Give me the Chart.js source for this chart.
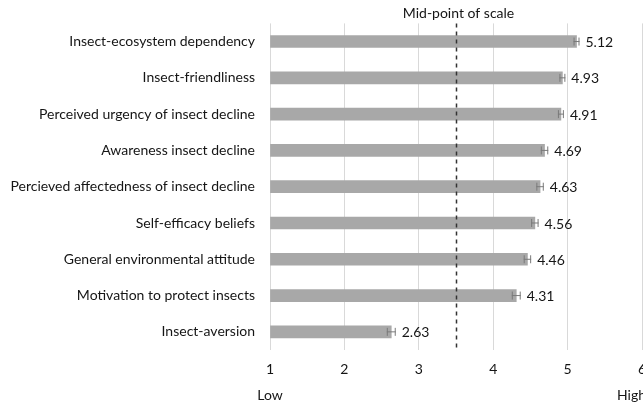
<!DOCTYPE html>
<html>
<head>
<meta charset="utf-8">
<script src="https://cdn.jsdelivr.net/npm/chart.js@4.4.1/dist/chart.umd.min.js"></script>
<style>
  html, body { margin: 0; padding: 0; background: #fff; overflow: hidden; }
  #wrap { width: 660px; height: 408px; }
</style>
</head>
<body>
<div id="wrap"><canvas id="c" width="660" height="408"></canvas></div>
<script>
const categories = [
  'Insect-ecosystem dependency',
  'Insect-friendliness',
  'Perceived urgency of insect decline',
  'Awareness insect decline',
  'Percieved affectedness of insect decline',
  'Self-efficacy beliefs',
  'General environmental attitude',
  'Motivation to protect insects',
  'Insect-aversion'
];
const means = [5.12, 4.93, 4.91, 4.69, 4.63, 4.56, 4.46, 4.31, 2.63];
const stdErrors = [0.04, 0.04, 0.04, 0.05, 0.05, 0.05, 0.05, 0.06, 0.06];
const xTicks = [1, 2, 3, 4, 5, 6];
const midPoint = 3.5;

const FONT = 'Lato, "Open Sans", sans-serif';
const TEXT = '#151515';

const annotations = {
  id: 'annotations',
  afterDatasetsDraw(chart) {
    const { ctx, chartArea, scales } = chart;
    const x = scales.x;
    ctx.save();

    // error bars and value labels
    const meta = chart.getDatasetMeta(0);
    ctx.strokeStyle = '#7a7a7a';
    ctx.lineWidth = 1;
    ctx.fillStyle = TEXT;
    ctx.font = '14px ' + FONT;
    ctx.textBaseline = 'middle';
    ctx.textAlign = 'left';
    meta.data.forEach((bar, i) => {
      const cy = bar.y;
      const lo = x.getPixelForValue(means[i] - stdErrors[i]);
      const hi = x.getPixelForValue(means[i] + stdErrors[i]);
      ctx.beginPath();
      ctx.moveTo(lo, cy); ctx.lineTo(hi, cy);
      ctx.moveTo(lo + 0.5, cy - 4); ctx.lineTo(lo + 0.5, cy + 4);
      ctx.moveTo(hi - 0.5, cy - 4); ctx.lineTo(hi - 0.5, cy + 4);
      ctx.stroke();
      ctx.fillText(means[i].toFixed(2), hi + 6, cy + 1);
    });

    // dashed mid-point line
    const mx = Math.round(x.getPixelForValue(midPoint)) + 0.5;
    ctx.strokeStyle = '#333';
    ctx.lineWidth = 1.5;
    ctx.setLineDash([4, 4]);
    ctx.beginPath();
    ctx.moveTo(mx, chartArea.top);
    ctx.lineTo(mx, chartArea.bottom);
    ctx.stroke();
    ctx.setLineDash([]);

    ctx.fillStyle = TEXT;
    ctx.textAlign = 'center';
    ctx.font = '14px ' + FONT;
    ctx.fillText('Mid-point of scale', mx + 2, 13);

    // scale ends
    ctx.textAlign = 'center';
    ctx.fillText('Low', x.getPixelForValue(1), 395);
    ctx.textAlign = 'left';
    ctx.fillText('High', x.getPixelForValue(6) - 25, 395);
    ctx.restore();
  }
};

new Chart(document.getElementById('c'), {
  type: 'bar',
  data: {
    labels: categories,
    datasets: [{
      data: means,
      backgroundColor: '#a8a8a8',
      borderWidth: 0,
      barThickness: 12,
      base: 1
    }]
  },
  options: {
    indexAxis: 'y',
    responsive: false,
    animation: false,
    layout: { padding: { top: 22, left: 0, right: 18, bottom: 0 } },
    plugins: { legend: { display: false }, tooltip: { enabled: false } },
    scales: {
      x: {
        min: 1, max: 6,
        afterBuildTicks(s) { s.ticks = xTicks.map(v => ({ value: v })); },
        afterFit(s) { s.height = 58; },
        grid: { color: '#d9d9d9', drawTicks: false },
        border: { display: false },
        ticks: { color: TEXT, font: { family: FONT, size: 14 }, padding: 11 }
      },
      y: {
        afterFit(s) { s.width = 270; },
        grid: { display: false, drawTicks: false },
        border: { display: false },
        ticks: { color: TEXT, font: { family: FONT, size: 14 }, padding: 15 }
      }
    }
  },
  plugins: [annotations]
});
</script>
</body>
</html>
